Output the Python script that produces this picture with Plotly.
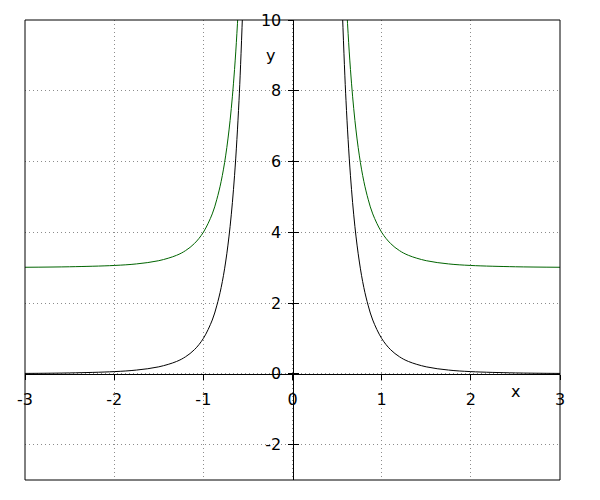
import plotly.graph_objects as go

# values
x_left = [-3.0, -2.5, -2.0, -1.75, -1.5, -1.3, -1.2, -1.1, -1.0, -0.9, -0.85, -0.8, -0.75, -0.7, -0.65, -0.6, -0.56]
black_left = [0.012, 0.026, 0.063, 0.107, 0.198, 0.35, 0.482, 0.683, 1.0, 1.52, 1.92, 2.44, 3.16, 4.16, 5.6, 7.72, 10.2]
green_left = [3.012, 3.026, 3.063, 3.107, 3.198, 3.35, 3.482, 3.683, 4.0, 4.52, 4.92, 5.44, 6.16, 7.16, 8.6, 10.72, 13.2]

x_right = [0.56, 0.6, 0.65, 0.7, 0.75, 0.8, 0.85, 0.9, 1.0, 1.1, 1.2, 1.3, 1.5, 1.75, 2.0, 2.5, 3.0]
black_right = [10.2, 7.72, 5.6, 4.16, 3.16, 2.44, 1.92, 1.52, 1.0, 0.683, 0.482, 0.35, 0.198, 0.107, 0.063, 0.026, 0.012]
green_right = [13.2, 10.72, 8.6, 7.16, 6.16, 5.44, 4.92, 4.52, 4.0, 3.683, 3.482, 3.35, 3.198, 3.107, 3.063, 3.026, 3.012]

x_ticks = [-3, -2, -1, 0, 1, 2, 3]
y_ticks = [-2, 0, 2, 4, 6, 8, 10]
x_range = [-3, 3]
y_range = [-3, 10]

GREEN = "#006400"
fig = go.Figure()
for xs, ys, c in [(x_left, black_left, "black"), (x_right, black_right, "black"),
                  (x_left, green_left, GREEN), (x_right, green_right, GREEN)]:
    fig.add_trace(go.Scatter(x=xs, y=ys, mode="lines",
                             line=dict(color=c, width=1, shape="spline", smoothing=1.0),
                             showlegend=False, hoverinfo="skip"))

x0pos = (0 - y_range[0]) / (y_range[1] - y_range[0])
y0pos = (0 - x_range[0]) / (x_range[1] - x_range[0])

GRID = "#8c8c8c"
fig.update_layout(
    width=600, height=500,
    margin=dict(l=17, r=48, t=12, b=28, autoexpand=False),
    paper_bgcolor="white", plot_bgcolor="white",
    font=dict(family="DejaVu Sans", size=16, color="black"),
    showlegend=False,
    xaxis=dict(range=x_range, tickvals=x_ticks, ticktext=[str(v) for v in x_ticks],
               anchor="free", position=x0pos, showline=True, linecolor="black", linewidth=1,
               ticks="outside", ticklen=5, tickcolor="black", ticklabelstandoff=6,
               showgrid=True, gridcolor=GRID, griddash="1px,3px", gridwidth=1,
               zeroline=False, fixedrange=True, automargin=False),
    yaxis=dict(range=y_range, tickvals=y_ticks, ticktext=[str(v) for v in y_ticks],
               anchor="free", position=y0pos, showline=True, linecolor="black", linewidth=1,
               ticks="outside", ticklen=5, tickcolor="black", ticklabelstandoff=3,
               showgrid=True, gridcolor=GRID, griddash="1px,3px", gridwidth=1,
               zeroline=False, fixedrange=True, automargin=False),
    yaxis2=dict(range=y_range, tickvals=y_ticks, overlaying="y", anchor="free", position=y0pos,
                side="left", ticks="inside", ticklen=5, tickcolor="black",
                showticklabels=False, showgrid=False, zeroline=False, showline=False,
                automargin=False),
    shapes=[dict(type="rect", xref="paper", yref="paper", x0=0, y0=0, x1=1, y1=1,
                 line=dict(color="black", width=1), layer="above")],
    annotations=[
        dict(text="x", x=2.5, y=0, xref="x", yref="y", showarrow=False, yshift=-18,
             font=dict(size=16)),
        dict(text="y", x=0, y=9.0, xref="x", yref="y", showarrow=False, xshift=-22,
             font=dict(size=16)),
    ],
)
fig.add_trace(go.Scatter(x=[0], y=[0], yaxis="y2", mode="markers", marker=dict(opacity=0),
                         showlegend=False, hoverinfo="skip"))
fig.write_html("out.html")
